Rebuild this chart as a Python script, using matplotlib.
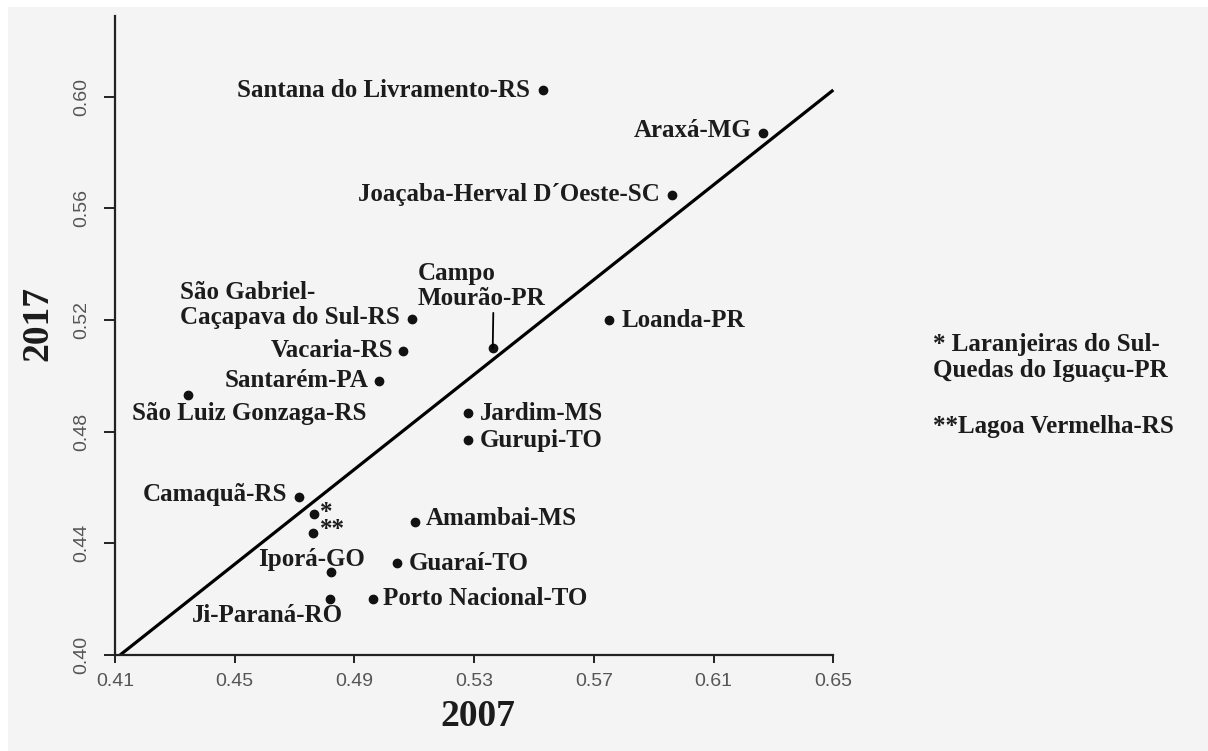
import matplotlib
matplotlib.use("Agg")
from matplotlib import pyplot as plt
from matplotlib.patches import Rectangle

#+++++ data
names = ["Santana do Livramento-RS", "Araxá-MG", "Joaçaba-Herval D´Oeste-SC",
         "São Gabriel-\nCaçapava do Sul-RS", "Campo\nMourão-PR", "Loanda-PR",
         "Vacaria-RS", "Santarém-PA", "São Luiz Gonzaga-RS", "Jardim-MS",
         "Gurupi-TO", "Camaquã-RS", "*", "**", "Amambai-MS", "Guaraí-TO",
         "Iporá-GO", "Ji-Paraná-RO", "Porto Nacional-TO"]
x2007 = [0.5531, 0.6264, 0.5960, 0.5091, 0.5362, 0.5752, 0.5063, 0.4983,
         0.4343, 0.5280, 0.5280, 0.4715, 0.4766, 0.4761, 0.5102, 0.5041,
         0.4821, 0.4818, 0.4963]
y2017 = [0.6024, 0.5871, 0.5648, 0.5203, 0.5099, 0.5200, 0.5090, 0.4982,
         0.4931, 0.4866, 0.4770, 0.4567, 0.4504, 0.4438, 0.4478, 0.4329,
         0.4296, 0.4201, 0.4201]
line_x = [0.4117, 0.6500]
line_y = [0.4000, 0.6024]
xticks = [0.41, 0.45, 0.49, 0.53, 0.57, 0.61, 0.65]
yticks = [0.40, 0.44, 0.48, 0.52, 0.56, 0.60]
notes = ["* Laranjeiras do Sul-\nQuedas do Iguaçu-PR", "**Lagoa Vermelha-RS"]
#-----

# label placement: (dx px, dy px, ha)
place = {
    "Santana do Livramento-RS": (-13, 0, "right"),
    "Araxá-MG": (-11, 2, "right"),
    "Joaçaba-Herval D´Oeste-SC": (-12, 0, "right"),
    "São Gabriel-\nCaçapava do Sul-RS": (-12, 14, "right"),
    "Loanda-PR": (12, 0, "left"),
    "Vacaria-RS": (-10, 0, "right"),
    "Santarém-PA": (-11, 0, "right"),
    "São Luiz Gonzaga-RS": (-56, -18, "left"),
    "Jardim-MS": (12, 0, "left"),
    "Gurupi-TO": (12, 0, "left"),
    "Camaquã-RS": (-12, 2, "right"),
    "Amambai-MS": (11, 3, "left"),
    "Guaraí-TO": (12, 0, "left"),
    "Iporá-GO": (-19, 13, "center"),
    "Ji-Paraná-RO": (13, -17, "right"),
    "Porto Nacional-TO": (10, 0, "left"),
}

W, H = 1208, 751
fig = plt.figure(figsize=(W / 100, H / 100), dpi=100, facecolor="white")
fig.patches.append(Rectangle((8 / W, 0), 1, 1 - 7 / H, transform=fig.transFigure,
                             facecolor="#f4f4f4", edgecolor="none", zorder=-10))

ax = fig.add_axes([115 / W, 96 / H, 0.25 * 2993 / W, 0.23 * 2791.5 / H])
ax.set_facecolor("none")
ax.set_xlim(0.41, 0.66)
ax.set_ylim(0.40, 0.63)

lab = dict(family="Liberation Serif", fontweight="bold", fontsize=18, color="#1c1c1c")

ax.plot(line_x, line_y, color="black", lw=2.3, solid_capstyle="butt", zorder=2)
ax.scatter(x2007, y2017, s=36, color="#111111", zorder=3, clip_on=False)

for i, (n, xv, yv) in enumerate(zip(names, x2007, y2017)):
    if n.startswith("Campo"):
        ax.annotate(n, (xv, yv), xytext=(-75, 62), textcoords="offset pixels",
                    ha="left", va="center", multialignment="left", linespacing=1.1,
                    arrowprops=dict(arrowstyle="-", color="black", lw=1.3,
                                    shrinkA=0, shrinkB=0, relpos=(0.592, 0.0)),
                    **lab)
        continue
    if n == "*":
        # both asterisk marks share one text block beside the two close dots
        ax.annotate(n + "\n" + names[i + 1], (xv, yv), xytext=(6, -7),
                    textcoords="offset pixels", ha="left", va="center",
                    multialignment="left", linespacing=0.68, **lab)
        continue
    if n == "**":
        continue
    dx, dy, ha = place[n]
    ax.annotate(n, (xv, yv), xytext=(dx, dy), textcoords="offset pixels",
                ha=ha, va="center", multialignment="left", linespacing=1.1, **lab)

fig.text(933 / W, 1 - 357.5 / H, notes[0], ha="left", va="center",
         linespacing=1.15, **lab)
fig.text(933 / W, 1 - 427 / H, notes[1], ha="left", va="center", **lab)

for s in ["top", "right"]:
    ax.spines[s].set_visible(False)
for s in ["left", "bottom"]:
    ax.spines[s].set_linewidth(1.6)
    ax.spines[s].set_color("#222222")
ax.spines["left"].set_bounds(0.40, 0.629)
ax.spines["bottom"].set_bounds(0.41, 0.65)

ax.set_xticks(xticks)
ax.set_xticklabels([f"{v:.2f}" for v in xticks])
ax.set_yticks(yticks)
ax.set_yticklabels([f"{v:.2f}" for v in yticks])
ax.tick_params(axis="x", length=6, width=1.4, color="#222222", pad=7,
               labelsize=14, labelcolor="#555555")
ax.tick_params(axis="y", length=8, width=1.4, color="#222222", pad=10,
               labelsize=14, labelcolor="#555555")
for t in ax.get_xticklabels() + ax.get_yticklabels():
    t.set_family("Liberation Sans")
for t in ax.get_yticklabels():
    t.set_rotation(90)
    t.set_va("center")

fig.text(478 / W, 1 - 717 / H, "2007", ha="center", va="center",
         family="Liberation Serif", fontweight="bold", fontsize=27, color="#1c1c1c")
fig.text(38 / W, 1 - 323 / H, "2017", ha="center", va="center", rotation=90,
         family="Liberation Serif", fontweight="bold", fontsize=27, color="#1c1c1c")

fig.savefig("out.png", dpi=100)
